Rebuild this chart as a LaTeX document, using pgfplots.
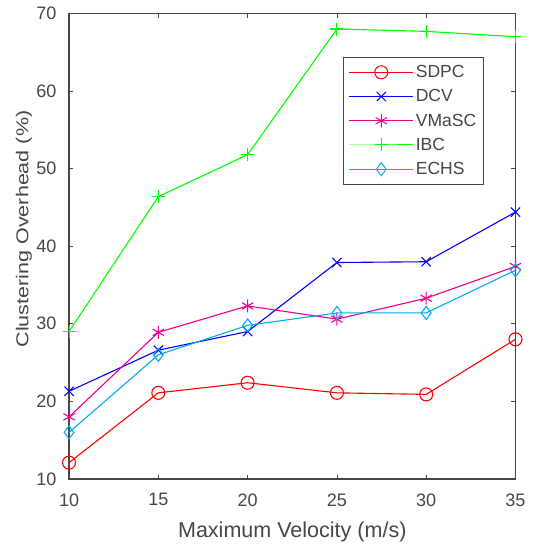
\documentclass[border=0pt]{standalone}
\usepackage{pgfplots}
\pgfplotsset{compat=1.18}
\usepackage{fontspec}
\setmainfont{Liberation Sans}
\usetikzlibrary{calc}
\definecolor{axgray}{RGB}{70,70,70}
\begin{document}
\begin{tikzpicture}
\begin{axis}[
    scale only axis,
    width=446pt, height=465pt,
    xmin=10, xmax=35, ymin=10, ymax=70,
    xtick={10,15,...,35}, ytick={10,20,...,70},
    tick align=inside,
    major tick length=4pt,
    axis line style={axgray, line width=1.6pt},
    tick style={axgray, line width=0.8pt},
    ticklabel style={font=\fontsize{18}{18}\selectfont, text=axgray},
    yticklabel style={xshift=-9pt},
    xticklabel style={yshift=-11pt},
    /pgf/number format/assume math mode=true,
    xlabel={Maximum Velocity (m/s)},
    ylabel={\scalebox{1}[0.8]{Clustering Overhead (\%)}},
    xlabel style={font=\fontsize{21.5}{21.5}\selectfont, text=axgray,
        at={(axis description cs:0.5,0)}, anchor=base, yshift=-59pt},
    ylabel style={font=\fontsize{21.5}{21.5}\selectfont, text=axgray,
        at={(axis description cs:0,0.537)}, anchor=center, yshift=45pt},
    legend style={at={(0.614,0.907)}, anchor=north west,
        draw=axgray, line width=1.2pt, fill=white,
        font=\fontsize{17.5}{17.5}\selectfont, text=axgray,
        row sep=6.5pt, inner xsep=5pt, inner ysep=6pt,
        cells={anchor=west}},
    legend image code/.code={%
        \draw[mark repeat=2,mark phase=2,line width=1pt]
        plot coordinates {(0pt,0pt)(32pt,0pt)(64pt,0pt)};},
    every axis plot/.append style={line width=1.1pt, mark size=6.5pt, mark options={solid}},
]
\addplot[red, mark=o] coordinates {(10,12.1)(15,21.1)(20,22.4)(25,21.1)(30,20.9)(35,28.0)};
\addplot[blue, mark=x] coordinates {(10,21.3)(15,26.6)(20,29.0)(25,37.9)(30,38.0)(35,44.4)};
\addplot[magenta, mark=asterisk] coordinates {(10,18.0)(15,28.9)(20,32.3)(25,30.6)(30,33.3)(35,37.4)};
\addplot[green, mark=+] coordinates {(10,29.0)(15,46.4)(20,51.8)(25,68.0)(30,67.7)(35,67.0)};
\addplot[cyan, mark=diamond] coordinates {(10,16.0)(15,26.0)(20,29.8)(25,31.4)(30,31.4)(35,36.9)};
\legend{SDPC, DCV, VMaSC, IBC, ECHS}
\end{axis}
\pgfresetboundingbox
\path[use as bounding box] ($(current axis.south west)+(-69pt,-69pt)$) rectangle ($(current axis.north east)+(17pt,13.5pt)$);
\end{tikzpicture}
\end{document}
